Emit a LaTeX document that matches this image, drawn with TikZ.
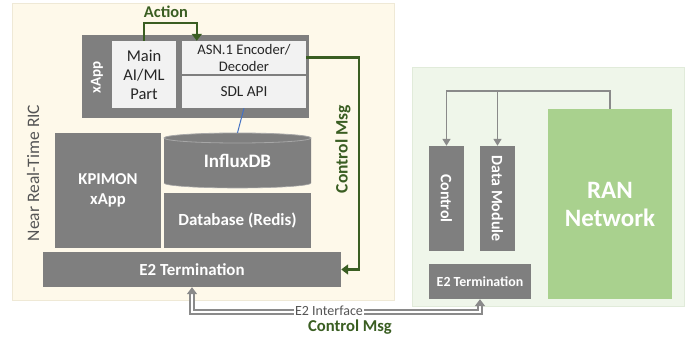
\documentclass[tikz,border=0pt]{standalone}
\usepackage{fontspec}
\setmainfont{Carlito}
\usetikzlibrary{arrows.meta,calc}
\definecolor{boxgray}{HTML}{7F7F7F}
\definecolor{lightbox}{HTML}{F2F2F2}
\definecolor{cream}{HTML}{FEF9EA}
\definecolor{creamline}{HTML}{EFE9D6}
\definecolor{mint}{HTML}{EFF6EA}
\definecolor{mintline}{HTML}{E1EBDA}
\definecolor{rangreen}{HTML}{A9D18E}
\definecolor{darkgreen}{HTML}{3A5E22}
\definecolor{linkgray}{HTML}{8A8A8A}
\definecolor{labelgray}{HTML}{555555}
\definecolor{linkblue}{HTML}{4472C4}
\definecolor{darktext}{HTML}{262626}
\definecolor{cylline}{HTML}{A6A6A6}
\newcommand\fsz[2]{\fontsize{#1}{#2}\selectfont}
\begin{document}
\begin{tikzpicture}[x=1pt,y=-1pt,
  sz/.style 2 args={minimum width=#1pt,minimum height=#2pt},
  panel/.style={inner sep=0pt,line width=0.8pt},
  darkbox/.style={fill=boxgray,draw=none,text=white,inner sep=0pt,align=center,font=\bfseries},
  lightbx/.style={fill=lightbox,draw=none,text=darktext,inner sep=0pt,align=center},
  greenarrow/.style={draw=darkgreen,line width=2.2pt,-{Triangle[width=10pt,length=7pt]}},
  grayarrow/.style={draw=linkgray,line width=1.6pt,-{Triangle[width=8pt,length=7pt]}},
  rotlabel/.style={rotate=90,inner sep=0pt}]
\useasboundingbox (0,0) rectangle (697,339);
\fill[white] (0,0) rectangle (697,339);
% panels
\node[panel,fill=cream,draw=creamline,sz={382}{297}] (leftbg) at (203,151.5) {};
\node[panel,fill=mint,draw=mintline,sz={272}{239}] (rightbg) at (548,186.5) {};
% xApp block
\node[darkbox,sz={227}{83}] (xapp) at (195.5,76.5) {};
\node[rotlabel,text=white,font=\bfseries\fsz{15}{17}] (xapplbl) at (97,77) {xApp};
\node[lightbx,sz={64}{67},font=\fsz{16.5}{19}] (main) at (144,74.5) {Main\\AI/ML\\Part};
\node[lightbx,sz={124}{33},font=\fsz{14.6}{17}] (asn) at (244,57.5) {ASN.1 Encoder/\\Decoder};
\node[lightbx,sz={124}{32},font=\fsz{15.3}{18}] (sdl) at (244,92) {SDL API};
% lower left blocks
\node[darkbox,sz={106}{115},font=\bfseries\fsz{16.6}{20}] (kpimon) at (108,190.5) {KPIMON\\xApp};
\fill[boxgray] (164,138) -- (164,183) arc[start angle=180,end angle=360,x radius=73.5pt,y radius=5pt] -- (311,138) -- cycle;
\draw[cylline,line width=0.6pt] (164,183) arc[start angle=180,end angle=360,x radius=73.5pt,y radius=5pt];
\draw[cylline,fill=boxgray,line width=0.8pt] (237.5,138) ellipse[x radius=73.5pt,y radius=5pt];
\node[inner sep=0pt,sz={147}{55},text=white,font=\bfseries\fsz{19}{22}] (influx) at (237.5,160.5) {\raisebox{-4pt}{InfluxDB}};
\node[darkbox,sz={147}{55},font=\bfseries\fsz{17}{20}] (redis) at (237.5,220.5) {Database (Redis)};
\node[darkbox,sz={298}{35},font=\bfseries\fsz{16.9}{20}] (e2left) at (192,269.5) {E2 Termination};
% labels left
\node[rotlabel,text=labelgray,font=\fsz{17.5}{20}] (riclbl) at (33,173) {Near Real-Time RIC};
\node[rotlabel,text=darkgreen,font=\bfseries\fsz{17.5}{20}] (ctrlmsgv) at (343,149) {Control Msg};
\node[inner sep=0pt,text=darkgreen,font=\bfseries\fsz{16.4}{19}] (actionlbl) at (166,12) {Action};
% right panel
\node[darkbox,sz={35}{105}] (control) at (446.5,198.5) {};
\node[rotate=-90,text=white,font=\bfseries\fsz{15.9}{18},inner sep=0pt] (controllbl) at (control.center) {Control};
\node[darkbox,sz={35}{105}] (datamod) at (497.5,198.5) {};
\node[rotate=-90,text=white,font=\bfseries\fsz{15.9}{18},inner sep=0pt] (datamodlbl) at (datamod.center) {Data Module};
\node[darkbox,sz={102}{35},font=\bfseries\fsz{13.9}{16}] (e2right) at (480,281.5) {E2 Termination};
\node[fill=rangreen,text=white,sz={124}{190},inner sep=0pt,align=center,font=\bfseries\fsz{25}{28}] (ran) at (610,204) {RAN\\Network};
% connectors
\draw[greenarrow] (main.north) -- ++(0,-18) -| ($(asn.north west)+(15,0)$);
\draw[greenarrow] (asn.east) -- ++(53,0) |- (e2left.east);
\draw[linkblue,line width=1pt] (sdl.south) -- (influx.north);
\coordinate (bus) at ($(ran.north)+(0,-18)$);
\draw[grayarrow] (ran.north) -- (bus) -| (control.north);
\draw[grayarrow] (datamod.north |- bus) -- (datamod.north);
\draw[draw=linkgray,line width=1.6pt,double=white,double distance=2.5pt,{Triangle[width=10pt,length=7pt]}-{Triangle[width=10pt,length=7pt]}] (e2left.south) -- ++(0,25) -| (e2right.south);
\node[fill=white,inner sep=1pt,text=labelgray,font=\fsz{14}{16}] (e2if) at (329,311) {E2 Interface};
\node[inner sep=0pt,text=darkgreen,font=\bfseries\fsz{16.6}{19}] (ctrlmsgh) at (350,327) {Control Msg};
\end{tikzpicture}
\end{document}
